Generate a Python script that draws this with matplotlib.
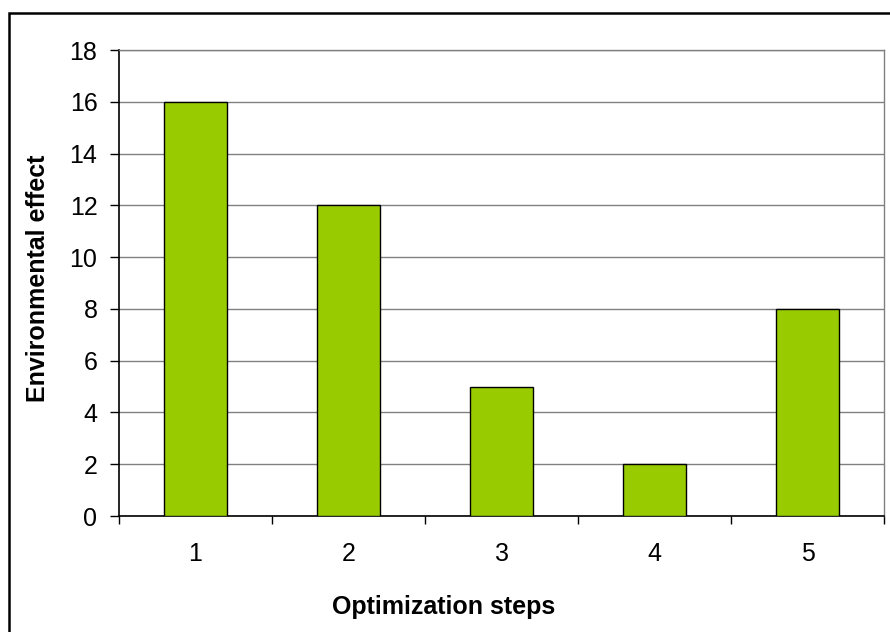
import numpy as np
import matplotlib.pyplot as plt
from matplotlib.patches import Rectangle

plt.rcParams['font.family'] = ['Liberation Sans', 'DejaVu Sans']

# data
steps = ['1', '2', '3', '4', '5']
effect = [16, 12, 5, 2, 8]
yticks = [0, 2, 4, 6, 8, 10, 12, 14, 16, 18]

fig = plt.figure(figsize=(8.9, 6.32), dpi=100)
W, H = 890, 632
ax = fig.add_axes([119 / W, 1 - 516 / H, (884 - 119) / W, (516 - 50) / H])

x = np.arange(1, len(steps) + 1)
ax.bar(x, effect, width=0.41, color='#99CC00', edgecolor='black', linewidth=1.0, zorder=3)

ax.set_xlim(0.5, len(steps) + 0.5)
ax.set_ylim(0, 18)
ax.set_yticks(yticks)
ax.set_yticklabels([str(v) for v in yticks], fontsize=18)
ax.yaxis.grid(True, color='#808080', linewidth=1.0, zorder=0)

# category boundaries as major ticks, labels at centres
ax.set_xticks(np.arange(0.5, len(steps) + 1, 1.0))
ax.set_xticklabels([])
ax.set_xticks(x, minor=True)
ax.set_xticklabels(steps, minor=True, fontsize=18)
ax.tick_params(axis='x', which='major', direction='out', length=6, width=1, color='black')
ax.tick_params(axis='x', which='minor', length=0, pad=19)
ax.tick_params(axis='y', direction='out', length=6.5, width=1, pad=9)

for s in ['left', 'bottom']:
    ax.spines[s].set_color('black')
    ax.spines[s].set_linewidth(1.2)
for s in ['right', 'top']:
    ax.spines[s].set_color('#808080')
    ax.spines[s].set_linewidth(1.0)

fig.text(444 / W, 1 - 607 / H, 'Optimization steps', fontsize=18, fontweight='bold',
         ha='center', va='center')
fig.text(38 / W, 1 - 278 / H, 'Environmental effect', fontsize=18, fontweight='bold',
         ha='center', va='center', rotation=90)

# outer chart border
fig.patches.append(Rectangle((9 / W, -0.1), 1.0, 1 - 13 / H + 0.1, transform=fig.transFigure,
                             fill=False, edgecolor='black', linewidth=1.8))

fig.savefig('out.png', dpi=100)
